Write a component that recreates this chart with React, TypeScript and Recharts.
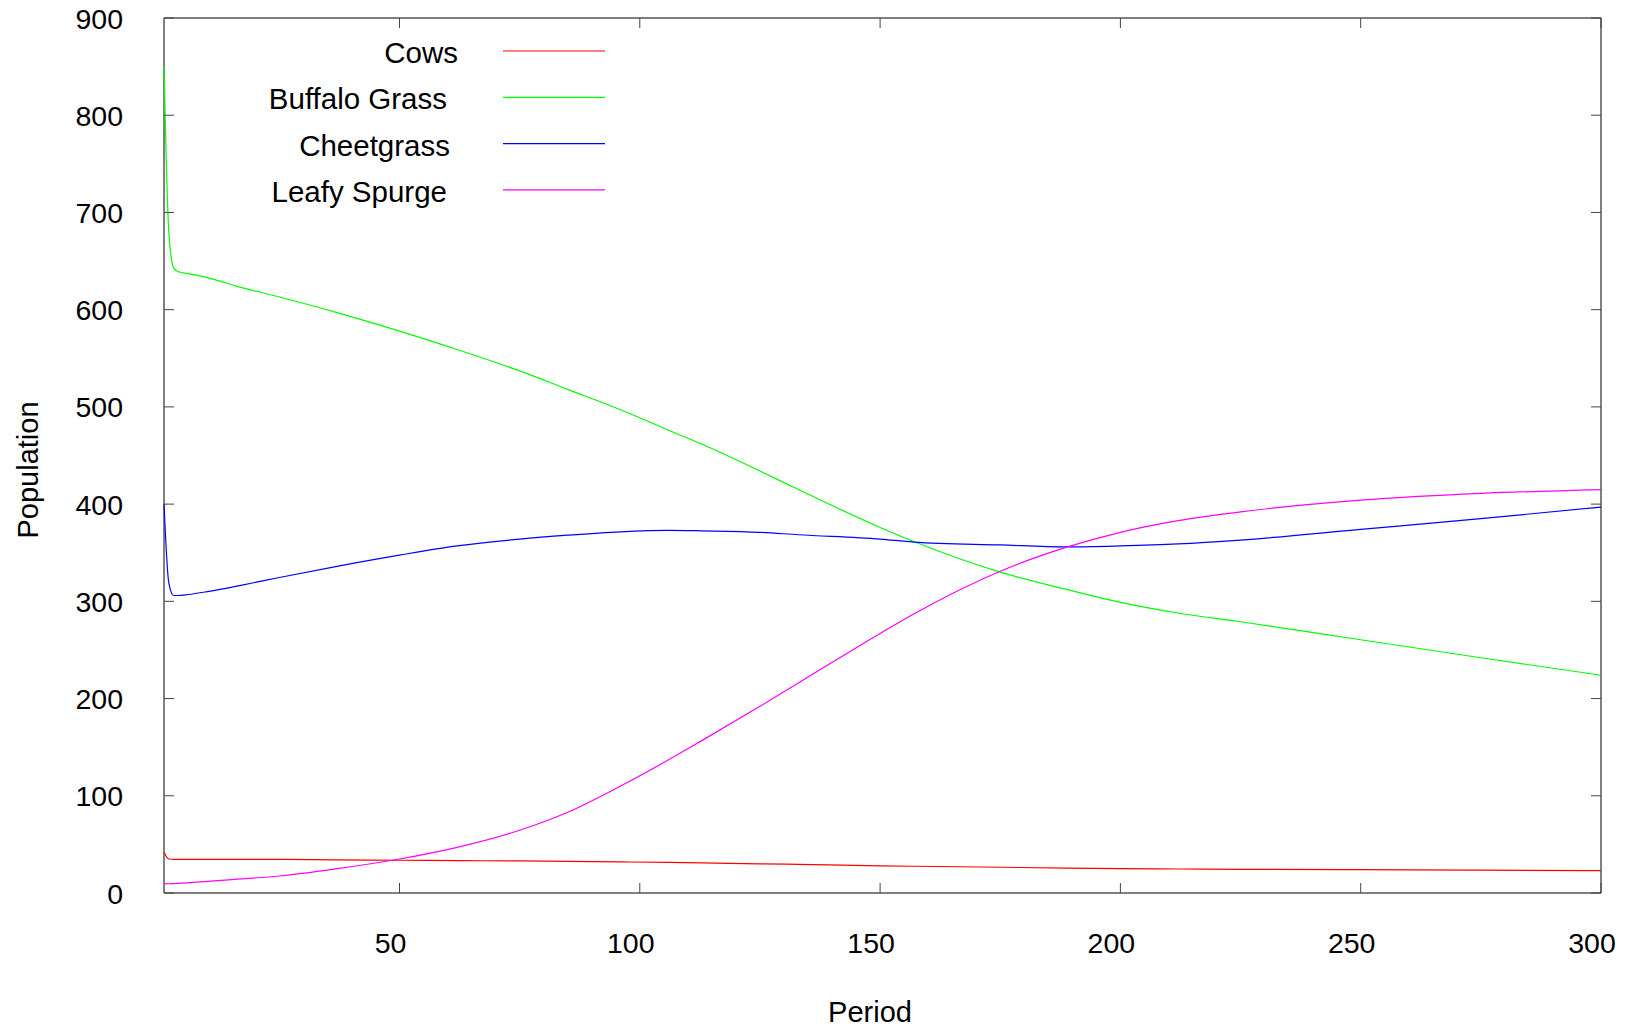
import { Line, LineChart, ReferenceArea, XAxis, YAxis } from "recharts";

const periods = [1, 2, 3, 4, 6, 10, 17, 25, 37, 50, 62, 75, 85, 96, 106, 113, 125, 133, 150, 157, 175, 189, 200, 212, 225, 250, 275, 300];
const cows = [42, 35, 34.5, 34.5, 34.5, 34.5, 34.5, 34.5, 34, 33.7, 33.3, 33, 32.5, 32, 31.5, 31, 30, 29.5, 28, 27.5, 26.5, 25.5, 25, 24.7, 24.3, 24, 23.5, 23];
const buffaloGrass = [850, 680, 643, 639, 637, 633, 623, 613, 597, 578, 559, 537, 518, 497, 476, 461.5, 434, 415, 376, 361.5, 330, 312, 299, 288, 279, 260.5, 242, 224];
const cheetgrass = [400, 319, 306, 306, 307, 310, 316.5, 324.5, 336, 347.5, 357, 364, 368, 371.5, 373, 372.5, 371, 368.5, 364, 361, 358, 356, 357, 359, 363, 374, 385, 397];
const leafySpurge = [9.3, 9.5, 9.7, 10, 10.5, 12, 14.5, 17.5, 25, 35, 47, 64.5, 83, 110, 137, 157, 192, 216, 267, 287, 331, 356, 371, 383, 392, 404, 411, 415];

const xTicks = [50, 100, 150, 200, 250, 300];
const yTicks = [0, 100, 200, 300, 400, 500, 600, 700, 800, 900];

const series = [
  { key: "cows", name: "Cows", color: "#ff0000" },
  { key: "buffalo", name: "Buffalo Grass", color: "#00ff00" },
  { key: "cheet", name: "Cheetgrass", color: "#0000ff" },
  { key: "leafy", name: "Leafy Spurge", color: "#ff00ff" },
];

const data = periods.map((t, i) => ({
  t,
  cows: cows[i],
  buffalo: buffaloGrass[i],
  cheet: cheetgrass[i],
  leafy: leafySpurge[i],
}));

const W = 1631;
const H = 1028;
const LEFT = 164;
const RIGHT = 1601;
const TOP = 18;
const BOTTOM = 893;
const FONT = "'Liberation Sans', Arial, sans-serif";
const TICK_LEN = 10;
const TICK_COLOR = "#444";

// gnuplot right-aligns legend text by estimated width, so the ends wobble a bit
const legendTextEnd = [458, 447, 450, 447];

function XTick({ x, payload }: any) {
  return (
    <g>
      <line x1={x} x2={x} y1={BOTTOM} y2={BOTTOM - TICK_LEN} stroke={TICK_COLOR} />
      <line x1={x} x2={x} y1={TOP} y2={TOP + TICK_LEN} stroke={TICK_COLOR} />
      <text x={x - 9} y={953} textAnchor="middle" fontSize={28.5} fontFamily={FONT} fill="#000">
        {payload.value}
      </text>
    </g>
  );
}

function YTick({ y, payload }: any) {
  return (
    <g>
      <line x1={LEFT} x2={LEFT + TICK_LEN} y1={y} y2={y} stroke={TICK_COLOR} />
      <line x1={RIGHT} x2={RIGHT - TICK_LEN} y1={y} y2={y} stroke={TICK_COLOR} />
      <text x={123} y={y + 10.5} textAnchor="end" fontSize={28.5} fontFamily={FONT} fill="#000">
        {payload.value}
      </text>
    </g>
  );
}

export default function App() {
  return (
    <div style={{ position: "absolute", left: 0, top: 0, width: W, height: H, background: "#fff" }}>
      <LineChart width={W} height={H} data={data} margin={{ top: TOP, right: W - RIGHT, left: 0, bottom: 0 }}>
        <XAxis
          dataKey="t"
          type="number"
          domain={[1, 300]}
          ticks={xTicks}
          height={H - BOTTOM}
          axisLine={false}
          tickLine={false}
          tick={(p: any) => <XTick {...p} />}
          interval={0}
        />
        <YAxis
          type="number"
          domain={[0, 900]}
          ticks={yTicks}
          width={LEFT}
          axisLine={false}
          tickLine={false}
          tick={(p: any) => <YTick {...p} />}
          interval={0}
        />
        <ReferenceArea x1={1} x2={300} y1={0} y2={900} fill="none" stroke="#000" strokeWidth={1} />
        {series.map((s) => (
          <Line
            key={s.key}
            dataKey={s.key}
            type="monotone"
            stroke={s.color}
            strokeWidth={1.2}
            dot={false}
            isAnimationActive={false}
          />
        ))}
      </LineChart>

      <svg width={W} height={H} style={{ position: "absolute", left: 0, top: 0, pointerEvents: "none" }}>
        {series.map((s, i) => (
          <g key={s.key}>
            <text x={legendTextEnd[i]} y={63 + i * 46.3} textAnchor="end" fontSize={29.5} fontFamily={FONT} fill="#000">
              {s.name}
            </text>
            <line x1={503} x2={605} y1={51 + i * 46.3} y2={51 + i * 46.3} stroke={s.color} strokeWidth={1.2} />
          </g>
        ))}
        <text x={870} y={1022} textAnchor="middle" fontSize={29} fontFamily={FONT} fill="#000">
          Period
        </text>
        <text
          x={28}
          y={470}
          textAnchor="middle"
          dominantBaseline="central"
          transform="rotate(-90 28 470)"
          fontSize={29}
          fontFamily={FONT}
          fill="#000"
        >
          Population
        </text>
      </svg>
    </div>
  );
}
